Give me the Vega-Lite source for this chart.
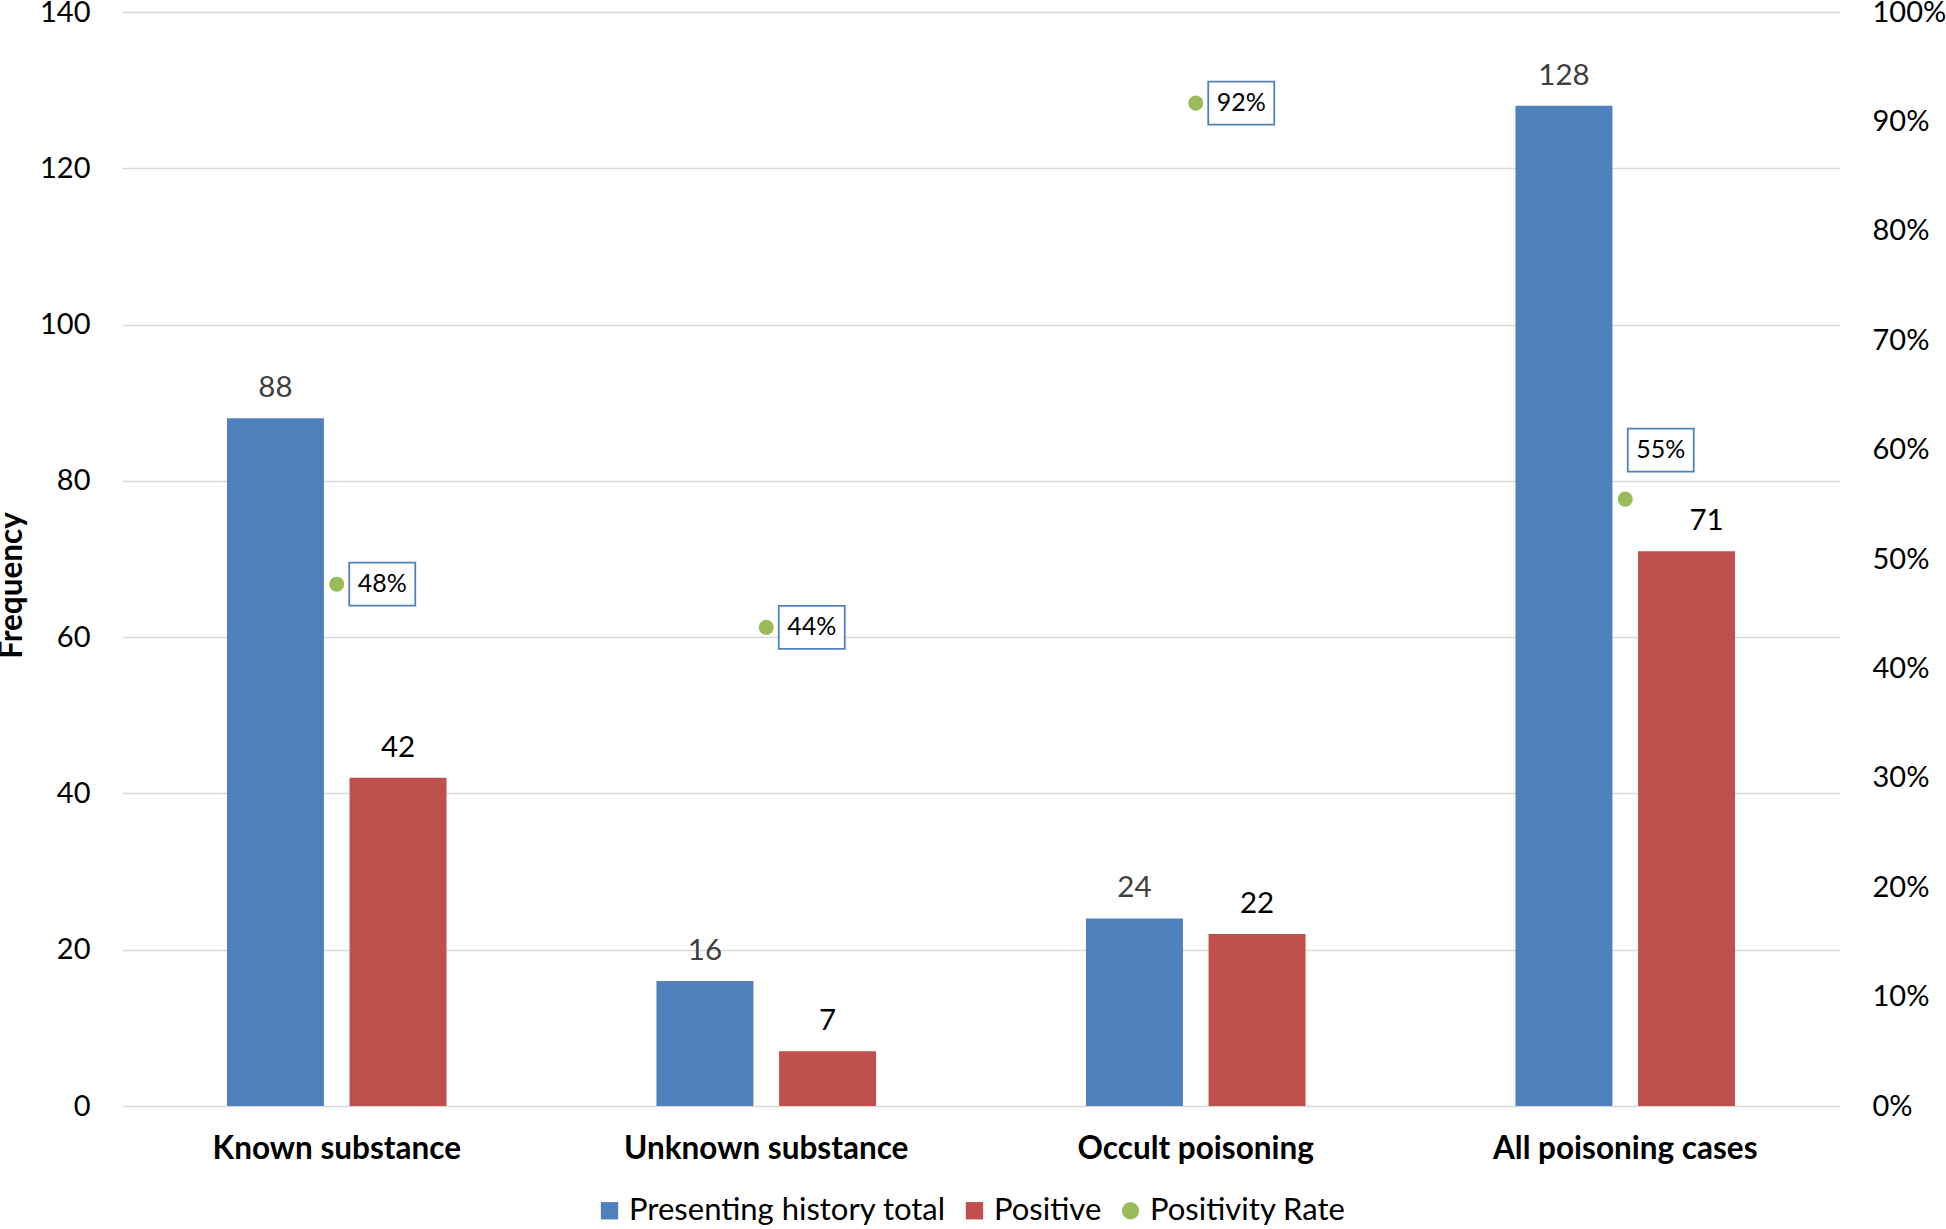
{
  "$schema": "https://vega.github.io/schema/vega-lite/v6.json",
  "width": 1718,
  "height": 1094,
  "autosize": {"type": "none"},
  "padding": {"left": 122, "top": 12, "right": 106, "bottom": 123},
  "background": "white",
  "config": {"font": "Lato", "view": {"stroke": null}},
  "datasets": {
    "bars": [
      {"category": "Known substance", "series": "Presenting history total", "value": 88},
      {"category": "Known substance", "series": "Positive", "value": 42},
      {"category": "Unknown substance", "series": "Presenting history total", "value": 16},
      {"category": "Unknown substance", "series": "Positive", "value": 7},
      {"category": "Occult poisoning", "series": "Presenting history total", "value": 24},
      {"category": "Occult poisoning", "series": "Positive", "value": 22},
      {"category": "All poisoning cases", "series": "Presenting history total", "value": 128},
      {"category": "All poisoning cases", "series": "Positive", "value": 71}
    ],
    "rates": [
      {"category": "Known substance", "series": "Positivity Rate", "rate": 0.477},
      {"category": "Unknown substance", "series": "Positivity Rate", "rate": 0.4375},
      {"category": "Occult poisoning", "series": "Positivity Rate", "rate": 0.9167},
      {"category": "All poisoning cases", "series": "Positivity Rate", "rate": 0.5547}
    ]
  },
  "layer": [
    {
      "data": {"name": "bars"},
      "layer": [
        {
          "mark": {"type": "bar"},
          "encoding": {
            "x": {
              "field": "category", "type": "nominal",
              "scale": {"domain": ["Known substance", "Unknown substance", "Occult poisoning", "All poisoning cases"], "paddingInner": 0, "paddingOuter": 0},
              "axis": {"title": null, "labelFontSize": 31.5, "labelFontWeight": "bold", "labelColor": "black", "labelAngle": 0, "labelLimit": 0, "ticks": false, "tickSize": 0, "domain": false, "labelPadding": 43, "labelBaseline": "middle", "grid": false}
            },
            "xOffset": {
              "field": "series", "type": "nominal",
              "scale": {"domain": ["Presenting history total", "Positive"], "paddingInner": 0.209, "paddingOuter": 0.856}
            },
            "y": {
              "field": "value", "type": "quantitative",
              "scale": {"domain": [0, 140], "nice": false},
              "axis": {"title": "Frequency", "titleFontSize": 31.5, "titleFontWeight": "bold", "titleColor": "black", "titleAngle": -90, "titleX": -110, "titleY": 573, "titleAlign": "center", "titleBaseline": "middle",
                       "values": [0, 20, 40, 60, 80, 100, 120, 140], "labelFontSize": 29, "labelColor": "black", "labelPadding": 32, "ticks": false, "tickSize": 0, "domain": false, "grid": true, "gridColor": "#D9D9D9", "gridWidth": 1.5}
            },
            "color": {
              "field": "series", "type": "nominal",
              "scale": {"domain": ["Presenting history total", "Positive", "Positivity Rate"], "range": ["#4F81BD", "#C0504D", "#9BBB59"]},
              "legend": {"title": null, "orient": "none", "legendX": 472, "legendY": 1183, "direction": "horizontal", "labelFontSize": 31, "labelColor": "black", "labelLimit": 0, "symbolSize": 300, "symbolStrokeWidth": 0, "symbolOpacity": 1, "columnPadding": 13, "labelOffset": 4,
                         "encode": {"symbols": {"update": {"shape": {"signal": "datum.value === 'Positivity Rate' ? 'circle' : 'square'"}}}}}
            }
          }
        },
        {
          "transform": [{"filter": "datum.value !== 71"}],
          "mark": {"type": "text", "dy": -30, "fontSize": 29.5, "baseline": "middle", "align": "center"},
          "encoding": {
            "x": {"field": "category", "type": "nominal"},
            "xOffset": {"field": "series", "type": "nominal"},
            "y": {"field": "value", "type": "quantitative"},
            "text": {"field": "value", "type": "quantitative"},
            "color": {"condition": {"test": "datum.series === 'Positive'", "value": "#000000"}, "value": "#404040"}
          }
        },
        {
          "transform": [{"filter": "datum.value === 71"}],
          "mark": {"type": "text", "dy": -30, "dx": 20, "fontSize": 29.5, "baseline": "middle", "align": "center", "color": "#000000"},
          "encoding": {
            "x": {"field": "category", "type": "nominal"},
            "xOffset": {"field": "series", "type": "nominal"},
            "y": {"field": "value", "type": "quantitative"},
            "text": {"field": "value", "type": "quantitative"}
          }
        }
      ]
    },
    {
      "data": {"name": "rates"},
      "layer": [
        {
          "mark": {"type": "point", "filled": true, "size": 227, "opacity": 1},
          "encoding": {
            "x": {"field": "category", "type": "nominal"},
            "y": {
              "field": "rate", "type": "quantitative",
              "scale": {"domain": [0, 1], "nice": false},
              "axis": {"orient": "right", "title": null, "format": ".0%", "values": [0, 0.1, 0.2, 0.3, 0.4, 0.5, 0.6, 0.7, 0.8, 0.9, 1], "labelFontSize": 29, "labelColor": "black", "labelPadding": 32, "ticks": false, "tickSize": 0, "domain": false, "grid": false}
            },
            "color": {"field": "series", "type": "nominal"}
          }
        },
        {
          "transform": [{"filter": "datum.category !== 'All poisoning cases'"}],
          "mark": {"type": "point", "shape": "M-1,-0.65H1V0.65H-1Z", "size": 4356, "filled": true, "fill": "white", "stroke": "#4F81BD", "strokeWidth": 1.8, "opacity": 1, "xOffset": 45.5},
          "encoding": {
            "x": {"field": "category", "type": "nominal"},
            "y": {"field": "rate", "type": "quantitative"}
          }
        },
        {
          "transform": [{"filter": "datum.category !== 'All poisoning cases'"}],
          "mark": {"type": "text", "fontSize": 25, "baseline": "middle", "align": "center", "dx": 45.5, "color": "black"},
          "encoding": {
            "x": {"field": "category", "type": "nominal"},
            "y": {"field": "rate", "type": "quantitative"},
            "text": {"field": "rate", "type": "quantitative", "format": ".0%"}
          }
        },
        {
          "transform": [{"filter": "datum.category === 'All poisoning cases'"}],
          "mark": {"type": "point", "shape": "M-1,-0.65H1V0.65H-1Z", "size": 4356, "filled": true, "fill": "white", "stroke": "#4F81BD", "strokeWidth": 1.8, "opacity": 1, "xOffset": 35.5, "yOffset": -49},
          "encoding": {
            "x": {"field": "category", "type": "nominal"},
            "y": {"field": "rate", "type": "quantitative"}
          }
        },
        {
          "transform": [{"filter": "datum.category === 'All poisoning cases'"}],
          "mark": {"type": "text", "fontSize": 25, "baseline": "middle", "align": "center", "dx": 35.5, "dy": -49, "color": "black"},
          "encoding": {
            "x": {"field": "category", "type": "nominal"},
            "y": {"field": "rate", "type": "quantitative"},
            "text": {"field": "rate", "type": "quantitative", "format": ".0%"}
          }
        }
      ]
    }
  ],
  "resolve": {"scale": {"y": "independent"}}
}
